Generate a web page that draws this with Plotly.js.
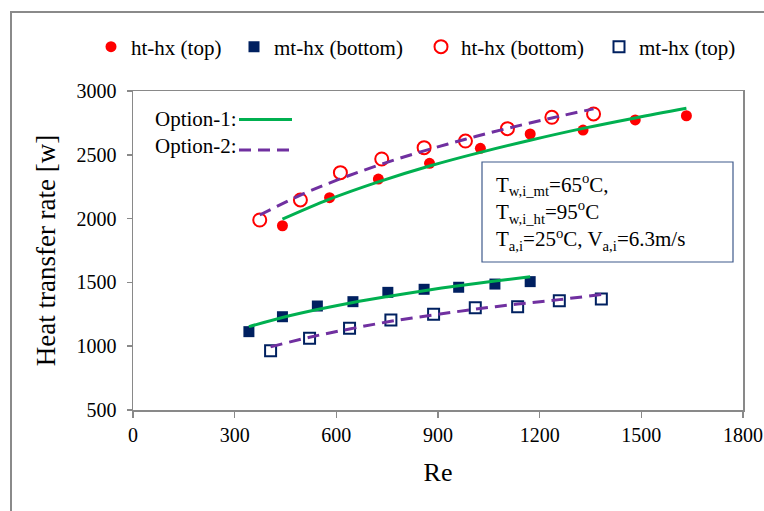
<!DOCTYPE html>
<html>
<head>
<meta charset="utf-8">
<script src="https://cdn.plot.ly/plotly-3.0.1.min.js"></script>
<style>
html,body{margin:0;padding:0;background:#fff;}
#chart{width:764px;height:511px;}
#warm{position:absolute;left:0;top:0;font-family:'Liberation Serif';font-size:20px;color:#fff;opacity:0.01;pointer-events:none;}
</style>
</head>
<body>
<span id="warm">0123456789 ht-hx (top) mt-hx (bottom)</span>
<div id="chart"></div>
<script>
// Measured points (Re vs heat transfer rate [W])
const reHtTop = [441, 580, 724, 875, 1025, 1172, 1328, 1482, 1633];
const qHtTop = [1944, 2164, 2310, 2433, 2551, 2663, 2694, 2773, 2806];

const reMtBottom = [342, 441, 544, 649, 752, 859, 961, 1068, 1172];
const qMtBottom = [1114, 1231, 1315, 1349, 1422, 1446, 1462, 1487, 1506];

const reHtBottom = [374, 494, 612, 734, 859, 981, 1105, 1236, 1359];
const qHtBottom = [1989, 2146, 2360, 2467, 2556, 2608, 2705, 2794, 2820];

const reMtTop = [406, 521, 639, 761, 887, 1010, 1135, 1258, 1382];
const qMtTop = [965, 1062, 1140, 1205, 1250, 1302, 1310, 1357, 1370];

// Option-1 (solid green) curves
const opt1HtRe = [441, 580, 724, 875, 1025, 1172, 1328, 1482, 1633];
const opt1HtQ = [1995, 2152, 2288, 2412, 2519, 2614, 2707, 2789, 2864];
const opt1MtRe = [342, 441, 544, 649, 752, 859, 961, 1068, 1172];
const opt1MtQ = [1153, 1225, 1287, 1343, 1390, 1435, 1474, 1511, 1545];

// Option-2 (dashed purple) curves
const opt2HtRe = [374, 494, 612, 734, 859, 981, 1105, 1236, 1359];
const opt2HtQ = [2028, 2184, 2312, 2427, 2531, 2622, 2707, 2789, 2860];
const opt2MtRe = [406, 521, 639, 761, 887, 1010, 1135, 1258, 1382];
const opt2MtQ = [995, 1070, 1135, 1195, 1245, 1290, 1330, 1365, 1405];

const seriesNames = ['ht-hx (top)', 'mt-hx (bottom)', 'ht-hx (bottom)', 'mt-hx (top)'];
const xTicks = [0, 300, 600, 900, 1200, 1500, 1800];
const yTicks = [500, 1000, 1500, 2000, 2500, 3000];

const FONT = '"Liberation Serif"';
const RED = '#FF0000', NAVY = '#002060', GREEN = '#00B050', PURPLE = '#7030A0';

const W = 764, H = 511;
const L = 133, R = 743, T = 91, B = 410;
const px = x => (x - L) / (R - L);
const py = y => (B - y) / (B - T);
const font = size => ({family: FONT, size: size, color: '#000'});

const traces = [
  {x: reHtTop, y: qHtTop, name: seriesNames[0], mode: 'markers', type: 'scatter', legend: 'legend',
   marker: {symbol: 'circle', size: 11, color: RED, line: {width: 0}}},
  {x: reMtBottom, y: qMtBottom, name: seriesNames[1], mode: 'markers', type: 'scatter', legend: 'legend2',
   marker: {symbol: 'square', size: 11, color: NAVY, line: {width: 0}}},
  {x: reHtBottom, y: qHtBottom, name: seriesNames[2], mode: 'markers', type: 'scatter', legend: 'legend3',
   marker: {symbol: 'circle-open', size: 13, color: RED, line: {width: 2, color: RED}}},
  {x: reMtTop, y: qMtTop, name: seriesNames[3], mode: 'markers', type: 'scatter', legend: 'legend4',
   marker: {symbol: 'square-open', size: 11, color: NAVY, line: {width: 2, color: NAVY}}},
  {x: opt1HtRe, y: opt1HtQ, mode: 'lines', type: 'scatter', showlegend: false, line: {color: GREEN, width: 3, shape: 'spline'}},
  {x: opt1MtRe, y: opt1MtQ, mode: 'lines', type: 'scatter', showlegend: false, line: {color: GREEN, width: 3, shape: 'spline'}},
  {x: opt2HtRe, y: opt2HtQ, mode: 'lines', type: 'scatter', showlegend: false, line: {color: PURPLE, width: 3, dash: '12px,7px', shape: 'spline'}},
  {x: opt2MtRe, y: opt2MtQ, mode: 'lines', type: 'scatter', showlegend: false, line: {color: PURPLE, width: 3, dash: '12px,7px', shape: 'spline'}}
];

function leg(markerPx) {
  return {x: (markerPx - 19) / W, y: 1 - 47 / H, xref: 'container', yref: 'container',
    xanchor: 'left', yanchor: 'middle', orientation: 'h', bgcolor: 'rgba(0,0,0,0)', borderwidth: 0,
    font: font(21)};
}

const axisLine = '#898989';
const layout = {
  width: W, height: H,
  margin: {l: L, r: W - R, t: T, b: H - B, pad: 0},
  paper_bgcolor: '#fff', plot_bgcolor: '#fff',
  showlegend: true,
  legend: leg(110), legend2: leg(253), legend3: leg(440), legend4: leg(618),
  xaxis: {type: 'linear', range: [0, 1800], tickvals: xTicks, showgrid: false, zeroline: false,
    showline: true, linecolor: axisLine, linewidth: 1.5, mirror: true,
    ticks: 'outside', ticklen: 6, tickwidth: 1.5, tickcolor: axisLine,
    tickfont: font(20),
    title: {text: 'Re', font: font(26), standoff: 18}},
  yaxis: {type: 'linear', range: [500, 3000], tickvals: yTicks, showgrid: false, zeroline: false,
    showline: true, linecolor: axisLine, linewidth: 1.5, mirror: true,
    ticks: 'outside', ticklen: 5, tickwidth: 1.5, tickcolor: axisLine, ticklabelstandoff: 6,
    tickfont: font(20),
    title: {text: 'Heat transfer rate [w]', font: font(27), standoff: 13}},
  shapes: [
    {type: 'rect', xref: 'paper', yref: 'paper', x0: px(11), x1: px(790), y0: py(540), y1: py(12),
     line: {color: '#8a8a8a', width: 2}, fillcolor: 'rgba(0,0,0,0)', layer: 'below'},
    {type: 'rect', xref: 'paper', yref: 'paper', x0: px(482), x1: px(733), y0: py(262), y1: py(162),
     line: {color: '#3f5a8c', width: 1.2}, fillcolor: '#fff'},
    {type: 'line', xref: 'paper', yref: 'paper', x0: px(239), x1: px(292), y0: py(119.5), y1: py(119.5),
     line: {color: GREEN, width: 3}},
    {type: 'line', xref: 'paper', yref: 'paper', x0: px(239), x1: px(296), y0: py(150), y1: py(150),
     line: {color: PURPLE, width: 3, dash: '12px,7px'}}
  ],
  annotations: [
    {xref: 'paper', yref: 'paper', x: px(153), y: py(119), xanchor: 'left', yanchor: 'middle', showarrow: false,
     text: 'Option-1:', font: font(21)},
    {xref: 'paper', yref: 'paper', x: px(153), y: py(146), xanchor: 'left', yanchor: 'middle', showarrow: false,
     text: 'Option-2:', font: font(21)},
    {xref: 'paper', yref: 'paper', x: px(494), y: py(212), xanchor: 'left', yanchor: 'middle', showarrow: false, align: 'left',
     text: 'T<sub>w,i_mt</sub>=65<sup>o</sup>C,<br>T<sub>w,i_ht</sub>=95<sup>o</sup>C<br>T<sub>a,i</sub>=25<sup>o</sup>C, V<sub>a,i</sub>=6.3m/s',
     font: font(21)}
  ]
};

const config = {displayModeBar: false, staticPlot: true};
function forceSerif() {
  document.querySelectorAll('#chart text').forEach(t => {
    t.style.setProperty('font-family', "'Liberation Serif'", 'important');
    t.setAttribute('font-family', 'Liberation Serif');
  });
}
Plotly.newPlot('chart', traces, layout, config).then(forceSerif);
if (document.fonts && document.fonts.load) {
  document.fonts.load('20px "Liberation Serif"').then(() =>
    Plotly.newPlot('chart', traces, layout, config).then(forceSerif)
  ).catch(() => {});
}
</script>
</body>
</html>
